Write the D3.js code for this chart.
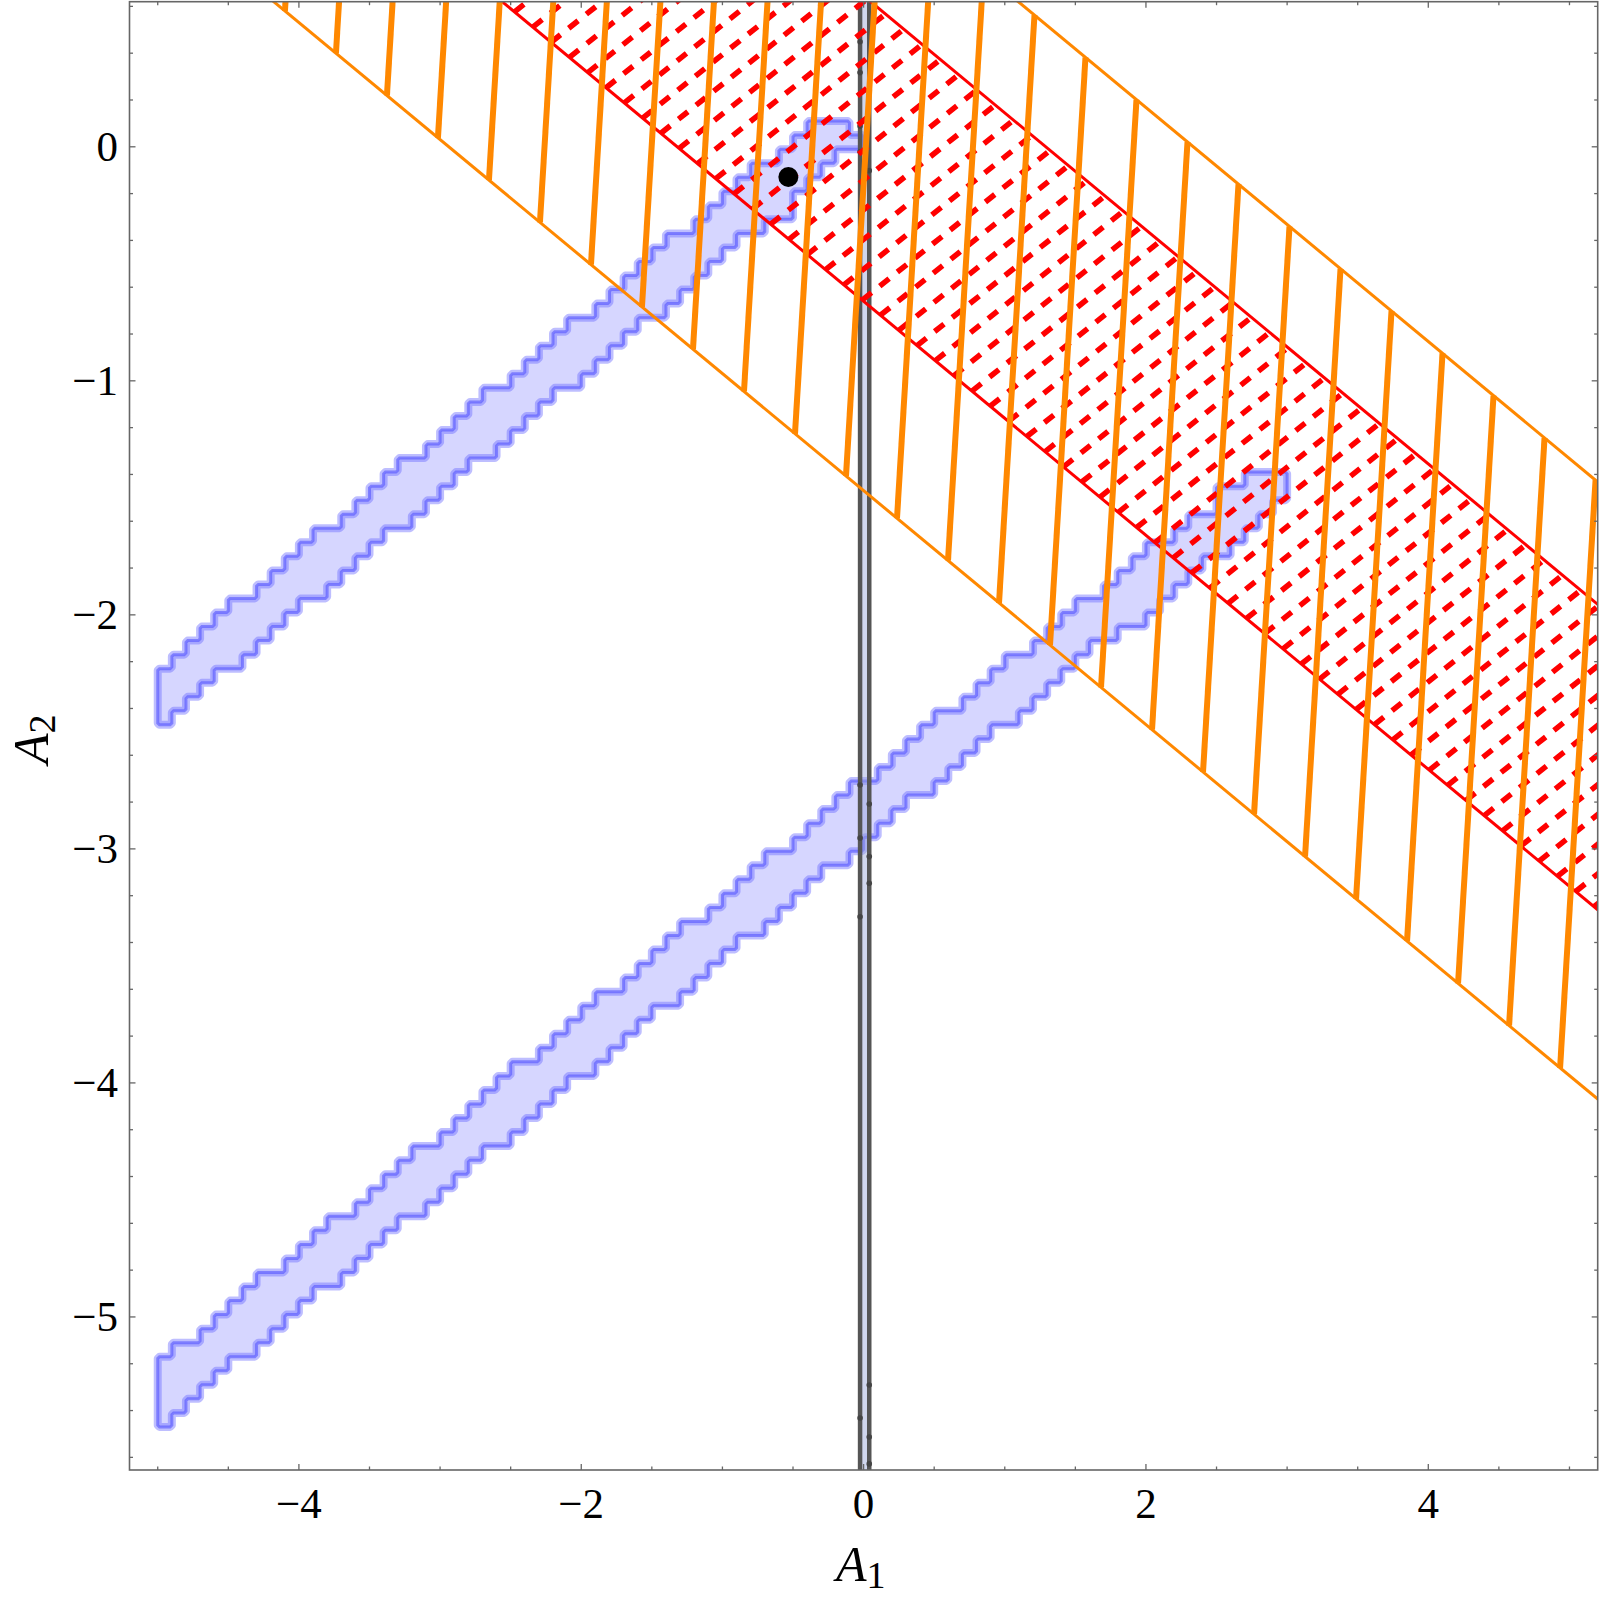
<!DOCTYPE html>
<html><head><meta charset="utf-8">
<script src="https://cdn.jsdelivr.net/npm/d3@7"></script>
<style>body{margin:0;background:#fff}</style>
</head><body>
<svg id="chart" width="1600" height="1599"></svg>
<script>
// ---------------- data ----------------
const xDomain = [-5.2, 5.2];
const yDomain = [-5.654, 0.62];
const xMajorTicks = [-4, -2, 0, 2, 4];
const xTickLabels = ["−4", "−2", "0", "2", "4"];
const yMajorTicks = [0, -1, -2, -3, -4, -5];
const yTickLabels = ["0", "−1", "−2", "−3", "−4", "−5"];
const xMinorTicks = [-5, -4.5, -3.5, -3, -2.5, -1.5, -1, -0.5, 0.5, 1, 1.5, 2.5, 3, 3.5, 4.5, 5];
const yMinorTicks = [0.6, 0.4, 0.2, -0.2, -0.4, -0.6, -0.8, -1.2, -1.4, -1.6, -1.8, -2.2, -2.4, -2.6, -2.8,
  -3.2, -3.4, -3.6, -3.8, -4.2, -4.4, -4.6, -4.8, -5.2, -5.4, -5.6];

// blue allowed regions (polygons in A1, A2)
const band1 = [[-5.0,-2.228],[-4.0,-1.728],[-3.0,-1.228],[-2.0,-0.728],[-1.019,-0.226],[-0.736,-0.084],
  [-0.594,-0.020],[-0.453,0.037],[-0.382,0.087],[-0.311,0.104],[-0.122,0.101],[-0.040,0.073],[-0.028,0.016],
  [-0.040,-0.006],[-0.122,-0.020],[-0.217,-0.063],[-0.311,-0.098],[-0.405,-0.141],[-0.500,-0.212],
  [-0.523,-0.283],[-0.618,-0.312],[-0.736,-0.355],[-0.927,-0.426],[-1.067,-0.510],[-2.0,-0.976],
  [-3.0,-1.476],[-4.0,-1.976],[-5.0,-2.476]];
const band2 = [[-5.0,-5.215],[-4.0,-4.715],[-3.0,-4.215],[-2.0,-3.715],[-1.0,-3.215],[0.0,-2.715],[1.0,-2.215],
  [1.885,-1.79],[2.144,-1.665],[2.380,-1.580],[2.499,-1.523],[2.569,-1.452],[2.687,-1.409],[2.758,-1.388],
  [2.876,-1.383],[2.947,-1.409],[2.994,-1.452],[2.982,-1.509],
  [2.924,-1.537],[2.853,-1.565],[2.782,-1.594],[2.734,-1.651],[2.664,-1.679],[2.593,-1.708],[2.522,-1.751],
  [2.380,-1.779],[2.333,-1.836],[2.191,-1.879],[2.144,-1.922],[2.050,-1.965],[1.908,-2.050],[1.672,-2.120],
  [1.0,-2.469],[0.0,-2.969],[-1.0,-3.469],[-2.0,-3.969],[-3.0,-4.469],[-4.0,-4.969],[-5.0,-5.469]];

// gray vertical band
const grayBand = [-0.025, 0.04];
const grayDotsLeft = [0.449, 0.317, 0.089, -0.021, -2.727, -2.954, -3.290, -5.432];
const grayDotsRight = [0.243, -0.102, -2.808, -3.033, -3.147, -5.291, -5.513, -5.628];

// slanted bands  A2 = b + slope*A1
const boundarySlope = -0.5;
const orangeIntercepts = [-1.469, 1.168];
const redIntercepts = [-0.66, 0.645];
const hatchTilt = 0.1;          // dA1/dA2 of orange hatch strokes
const meshSlope = 0.48;         // slope of red dashed mesh lines
const bestFit = [-0.533, -0.129];

// ---------------- layout ----------------
const M = {left: 129.5, right: 1597.7, top: 1.7, bottom: 1470};
const x = d3.scaleLinear().domain(xDomain).range([M.left, M.right]);
const y = d3.scaleLinear().domain(yDomain).range([M.bottom, M.top]);
const svg = d3.select("#chart");
const FONT = "'Liberation Serif','Times New Roman',Times,serif";

svg.append("defs").append("clipPath").attr("id", "plotClip").append("rect")
  .attr("x", M.left).attr("y", M.top).attr("width", M.right - M.left).attr("height", M.bottom - M.top);
const plot = svg.append("g").attr("clip-path", "url(#plotClip)");

// ---------------- blue regions (pixelated contour look) ----------------
const G = {x0: -5.3, y0: 0.65, dx: 0.1, dy: 0.06, up: 4};
const cnx = Math.ceil((xDomain[1] + 0.2 - G.x0) / G.dx);
const cny = Math.ceil((G.y0 - yDomain[0] + 0.2) / G.dy);
const fnx = cnx * G.up, fny = cny * G.up;
const toScreen = d3.geoTransform({point(gx, gy) {
  this.stream.point(x(G.x0 + gx * G.dx / G.up), y(G.y0 - gy * G.dy / G.up)); }});
const gp = d3.geoPath(toScreen);
const blueG = plot.append("g");
[band1, band2].forEach(poly => {
  const coarse = new Uint8Array(cnx * cny);
  for (let j = 0; j < cny; j++) for (let i = 0; i < cnx; i++) {
    coarse[j * cnx + i] = d3.polygonContains(poly, [G.x0 + (i + 0.5) * G.dx, G.y0 - (j + 0.5) * G.dy]) ? 1 : 0;
  }
  const vals = new Float64Array(fnx * fny);
  for (let j = 0; j < fny; j++) for (let i = 0; i < fnx; i++) {
    vals[j * fnx + i] = coarse[Math.floor(j / G.up) * cnx + Math.floor(i / G.up)];
  }
  const c = d3.contours().size([fnx, fny]).smooth(false).thresholds([0.5])(vals)[0];
  const d = gp(c);
  blueG.append("path").attr("d", d).attr("fill", "#d6d6ff")
    .attr("stroke", "rgba(110,110,255,0.45)").attr("stroke-width", 8).attr("stroke-linejoin", "round");
  blueG.append("path").attr("d", d).attr("fill", "none")
    .attr("stroke", "rgba(85,85,255,0.6)").attr("stroke-width", 3);
});

// ---------------- gray vertical band ----------------
plot.append("rect").attr("x", x(grayBand[0])).attr("y", M.top)
  .attr("width", x(grayBand[1]) - x(grayBand[0])).attr("height", M.bottom - M.top)
  .attr("fill", "rgba(150,165,215,0.45)");
grayBand.forEach(v => plot.append("line").attr("x1", x(v)).attr("x2", x(v))
  .attr("y1", M.top).attr("y2", M.bottom).attr("stroke", "#555").attr("stroke-width", 4.5));
plot.append("g").selectAll("circle").data(grayDotsLeft.map(v => [grayBand[0], v])
  .concat(grayDotsRight.map(v => [grayBand[1], v]))).join("circle")
  .attr("cx", d => x(d[0])).attr("cy", d => y(d[1])).attr("r", 2.8).attr("fill", "#444");

// ---------------- red band with dashed mesh ----------------
const meshStarts = d3.range(-50, 30).map(j => 1.804 + 0.1296 * j);
const meshLen = (redIntercepts[1] - redIntercepts[0]) / (meshSlope - boundarySlope);
plot.append("g").selectAll("line").data(meshStarts).join("line")
  .attr("x1", d => x(d)).attr("y1", d => y(redIntercepts[0] + boundarySlope * d))
  .attr("x2", d => x(d + meshLen)).attr("y2", d => y(redIntercepts[0] + boundarySlope * d + meshSlope * meshLen))
  .attr("stroke", "#ff0000").attr("stroke-width", 5.5).attr("stroke-dasharray", "12,10.5");
redIntercepts.forEach(b => plot.append("line")
  .attr("x1", x(-7)).attr("y1", y(b + boundarySlope * -7)).attr("x2", x(7)).attr("y2", y(b + boundarySlope * 7))
  .attr("stroke", "#ff0000").attr("stroke-width", 3));

// ---------------- orange hatched band ----------------
const hatchStarts = d3.range(0, 27).map(k => -4.099 + 0.3613 * k);
const hatchLen = (orangeIntercepts[1] - orangeIntercepts[0]) / (1 - boundarySlope * hatchTilt);
orangeIntercepts.forEach(b => plot.append("line")
  .attr("x1", x(-7)).attr("y1", y(b + boundarySlope * -7)).attr("x2", x(7)).attr("y2", y(b + boundarySlope * 7))
  .attr("stroke", "#ff8800").attr("stroke-width", 3));
plot.append("g").selectAll("line").data(hatchStarts).join("line")
  .attr("x1", d => x(d)).attr("y1", d => y(orangeIntercepts[0] + boundarySlope * d))
  .attr("x2", d => x(d + hatchTilt * hatchLen)).attr("y2", d => y(orangeIntercepts[0] + boundarySlope * d + hatchLen))
  .attr("stroke", "#ff8800").attr("stroke-width", 6);

// ---------------- best-fit point ----------------
plot.append("circle").attr("cx", x(bestFit[0])).attr("cy", y(bestFit[1])).attr("r", 10).attr("fill", "#000");

// ---------------- frame & ticks ----------------
const axisColor = "#666";
svg.append("rect").attr("x", M.left).attr("y", M.top).attr("width", M.right - M.left).attr("height", M.bottom - M.top)
  .attr("fill", "none").attr("stroke", axisColor).attr("stroke-width", 1.6);
const tg = svg.append("g").attr("stroke", axisColor).attr("stroke-width", 1.3);
const xt = xMajorTicks.map(v => [v, 6]).concat(xMinorTicks.map(v => [v, 3.5]));
const yt = yMajorTicks.map(v => [v, 6]).concat(yMinorTicks.map(v => [v, 3.5]));
xt.forEach(([v, L]) => {
  tg.append("line").attr("x1", x(v)).attr("x2", x(v)).attr("y1", M.bottom).attr("y2", M.bottom - L);
  tg.append("line").attr("x1", x(v)).attr("x2", x(v)).attr("y1", M.top).attr("y2", M.top + L);
});
yt.forEach(([v, L]) => {
  tg.append("line").attr("y1", y(v)).attr("y2", y(v)).attr("x1", M.left).attr("x2", M.left + L);
  tg.append("line").attr("y1", y(v)).attr("y2", y(v)).attr("x1", M.right).attr("x2", M.right - L);
});

// tick labels
svg.append("g").selectAll("text").data(xMajorTicks).join("text")
  .attr("x", d => x(d)).attr("y", 1518).attr("text-anchor", "middle")
  .attr("font-family", FONT).attr("font-size", 43).attr("fill", "#000")
  .text((d, i) => xTickLabels[i]);
svg.append("g").selectAll("text").data(yMajorTicks).join("text")
  .attr("x", 118).attr("y", d => y(d) + 14.5).attr("text-anchor", "end")
  .attr("font-family", FONT).attr("font-size", 43).attr("fill", "#000")
  .text((d, i) => yTickLabels[i]);

// axis labels
const xl = svg.append("text").attr("x", 836).attr("y", 1581).attr("font-family", FONT).attr("fill", "#000");
xl.append("tspan").attr("font-size", 50).attr("font-style", "italic").text("A");
xl.append("tspan").attr("font-size", 38).attr("dy", 7).text("1");
const yl = svg.append("text").attr("transform", "translate(48,764) rotate(-90)").attr("font-family", FONT).attr("fill", "#000");
yl.append("tspan").attr("font-size", 50).attr("font-style", "italic").text("A");
yl.append("tspan").attr("font-size", 38).attr("dy", 7).text("2");
</script>
</body></html>
